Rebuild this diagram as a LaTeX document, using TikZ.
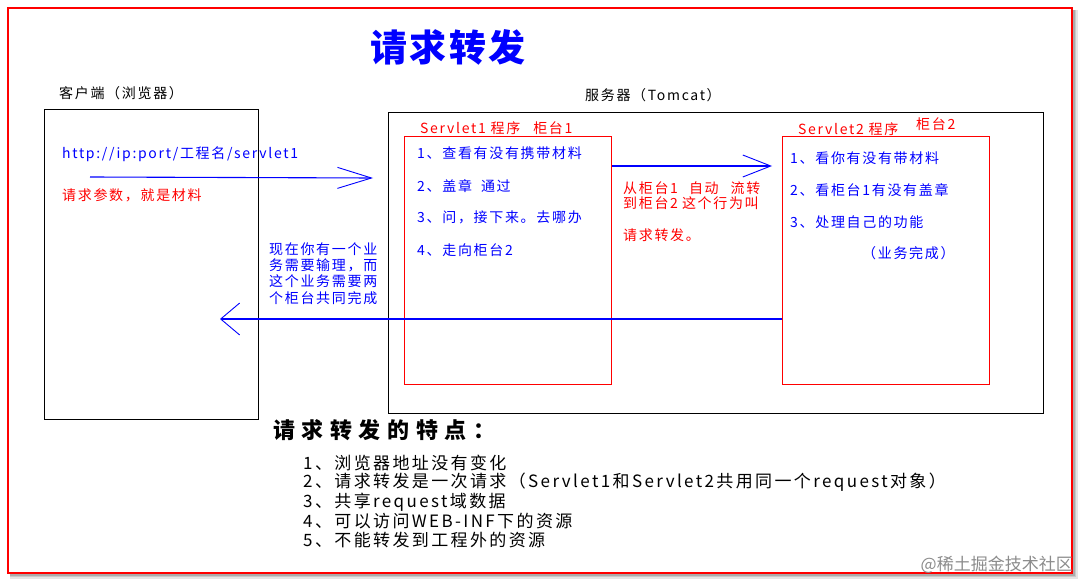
\documentclass[tikz,border=0pt]{standalone}
\usepackage{fontspec}
\setmainfont{Noto Sans CJK SC}
\usetikzlibrary{arrows.meta}
\definecolor{rblue}{RGB}{0,0,255}
\definecolor{rred}{RGB}{255,0,0}
\begin{document}
\begin{tikzpicture}[x=1pt,y=-1pt,
  txt/.style={inner sep=0pt, anchor=west, font={\fontsize{14}{16}\selectfont\addfontfeature{LetterSpace=12}}},
  bluetxt/.style={txt, text=rblue},
  redtxt/.style={txt, text=rred},
  blacktxt/.style={txt, text=black},
  blackbox/.style={draw=black, line width=1.1pt, inner sep=0pt, anchor=north west},
  redbox/.style={draw=rred, line width=1.3pt, inner sep=0pt, anchor=north west},
  flow/.style={draw=rblue, line width=1.1pt},
  listtxt/.style={inner sep=0pt, anchor=west, text=black, font={\fontsize{17}{19}\selectfont\addfontfeature{LetterSpace=14}}},
]
\useasboundingbox (0,0) rectangle (1082,583);
% frame with shadow
\fill[black, opacity=0.10] (10,10) rectangle (1078,579);
\fill[black, opacity=0.12] (10,10) rectangle (1076,577);
\fill[black, opacity=0.15] (10,10) rectangle (1074.5,575.5);
\filldraw[fill=white, draw=rred, line width=1.5pt] (8,8) rectangle (1072,573);

% title
\node[inner sep=0pt, text=rblue, font={\fontsize{37}{37}\selectfont\bfseries\addfontfeature{LetterSpace=7}}] (title) at (448,47) {请求转发};

% labels
\node[blacktxt] (clientlbl) at (59,93) {客户端（浏览器）};
\node[blacktxt] (serverlbl) at (585,95) {服务器（Tomcat）};

% boxes
\node[blackbox, minimum width=214pt, minimum height=310pt] (client) at (44,109) {};
\node[blackbox, minimum width=655pt, minimum height=301pt] (server) at (388,112) {};
\node[redbox, minimum width=207pt, minimum height=248pt] (s1) at (404,136) {};
\node[redbox, minimum width=207pt, minimum height=248pt] (s2) at (782,136) {};

% client texts
\node[bluetxt] (url) at (62,154) {http://ip:port/工程名/servlet1};
\node[redtxt] (param) at (62,195) {请求参数，就是材料};

% servlet1
\node[redtxt] (s1lbl) at (420,128) {Servlet1 程序\hspace{13pt}柜台1};
\node[bluetxt] (s1a) at (417,153) {1、查看有没有携带材料};
\node[bluetxt] (s1b) at (417,186) {2、盖章\hspace{9pt}通过};
\node[bluetxt] (s1c) at (417,217) {3、问，接下来。去哪办};
\node[bluetxt] (s1d) at (417,250) {4、走向柜台2};

% middle text
\node[redtxt] (m1) at (623,188) {从柜台1\hspace{11pt}自动\hspace{12pt}流转};
\node[redtxt] (m2) at (623,203) {到柜台2\hspace{4pt}这个行为叫};
\node[redtxt] (m3) at (623,235) {请求转发。};

% servlet2
\node[redtxt] (s2lbl) at (798,129) {Servlet2 程序};
\node[redtxt] (s2lblb) at (916,124) {柜台2};
\node[bluetxt] (s2a) at (790,158) {1、看你有没有带材料};
\node[bluetxt] (s2b) at (790,190) {2、看柜台1有没有盖章};
\node[bluetxt] (s2c) at (790,222) {3、处理自己的功能};
\node[bluetxt] (s2d) at (862,253) {（业务完成）};

% return explanation
\node[bluetxt, align=left, font={\fontsize{14}{16.3}\selectfont\addfontfeature{LetterSpace=12}}] (expl) at (269,273.5) {现在你有一个业\\务需要输理，而\\这个业务需要两\\个柜台共同完成};

% arrows
\coordinate (a1s) at (90,177);
\coordinate (a1e) at (373,178);
\draw[flow, -{Straight Barb[length=34pt, width=21pt, line width=0.9pt]}] (a1s) -- (a1e);
\coordinate (a2e) at (772,166);
\draw[flow, -{Straight Barb[length=28pt, width=22pt, line width=0.9pt]}] (s1.east |- a2e) -- (a2e);
\coordinate (a3e) at (220,319);
\draw[flow, -{Straight Barb[length=19pt, width=32pt, line width=0.9pt]}] (s2.west |- a3e) -- (a3e);

% bottom
\node[inner sep=0pt, anchor=west, text=black, font={\fontsize{22}{22}\selectfont\bfseries\addfontfeature{LetterSpace=30}}] (feat) at (273,430) {请求转发的特点：};
\node[listtxt] (f1) at (303,463) {1、浏览器地址没有变化};
\node[listtxt] (f2) at (303,482) {2、请求转发是一次请求（Servlet1和Servlet2共用同一个request对象）};
\node[listtxt] (f3) at (303,502) {3、共享request域数据};
\node[listtxt] (f4) at (303,521) {4、可以访问WEB-INF下的资源};
\node[listtxt] (f5) at (303,540) {5、不能转发到工程外的资源};

% watermark
\node[inner sep=0pt, anchor=east, text=black!45, font={\fontsize{17}{17}\selectfont}] (wm) at (1073,565) {@稀土掘金技术社区};
\end{tikzpicture}
\end{document}
